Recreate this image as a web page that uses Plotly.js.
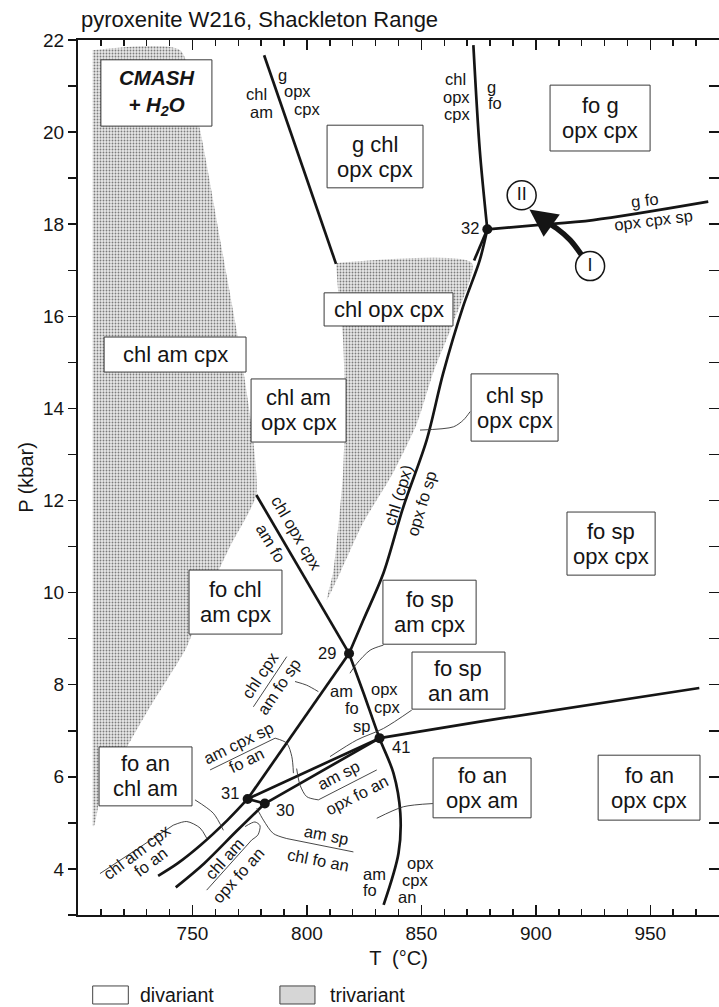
<!DOCTYPE html>
<html>
<head>
<meta charset="utf-8">
<script src="https://cdn.plot.ly/plotly-3.0.1.min.js"></script>
<style>html,body{margin:0;padding:0;background:#fff;}#plot{width:719px;height:1007px;}</style>
</head>
<body>
<div id="plot"></div>
<script>
// ---------- data: phase boundaries (T in °C, P in kbar) ----------
const T_gChl = [781.3, 812.7];                 const P_gChl = [21.67, 17.14];
const T_top32 = [872.7, 875.5, 878.8];          const P_top32 = [21.89, 19.61, 17.89];
const T_right32 = [878.8, 900.2, 925.0, 975.3]; const P_right32 = [17.89, 17.98, 18.09, 18.49];
const T_short32 = [878.8, 873.0];               const P_short32 = [17.89, 17.21];
const T_32to29 = [878.8, 875.5, 868.2, 859.5, 852.3, 842.1, 833.4, 824.6, 818.4];
const P_32to29 = [17.89, 17.22, 16.21, 14.76, 13.31, 11.86, 10.42, 9.40, 8.68];
const T_amFo = [777.9, 810.1, 818.4];           const P_amFo = [12.12, 9.40, 8.68];
const T_29down = [818.4, 824.8, 831.7, 837.8, 840.8, 840.0, 833.5];
const P_29down = [8.68, 7.81, 6.84, 6.08, 5.21, 4.34, 3.22];
const T_31to29 = [774.1, 818.4];                const P_31to29 = [5.52, 8.68];
const T_31down = [774.1, 765.3, 753.6, 743.5, 735.0]; const P_31down = [5.52, 5.06, 4.52, 4.12, 3.85];
const T_30down = [781.6, 769.6, 755.1, 742.7];  const P_30down = [5.42, 4.84, 4.12, 3.60];
const T_31to30 = [774.1, 781.6];                const P_31to30 = [5.52, 5.42];
const T_31to41 = [774.1, 831.7];                const P_31to41 = [5.52, 6.84];
const T_30to41 = [781.6, 831.7];                const P_30to41 = [5.42, 6.84];
const T_41right = [831.7, 875.6, 971.4];        const P_41right = [6.84, 7.20, 7.93];

// invariant points
const T_inv = [878.8, 818.4, 831.7, 774.1, 781.6];
const P_inv = [17.89, 8.68, 6.84, 5.52, 5.42];
const inv_labels = ['32', '29', '41', '31', '30'];

// trivariant fields (shaded)
const T_triA = [706.4, 744.6, 753.3, 762.9, 770.8, 776.0, 777.8, 766.4, 755.5, 747.5, 731.5, 718.3, 709.6, 707.0, 706.4];
const P_triA = [21.78, 21.78, 20.05, 17.44, 15.27, 13.53, 12.12, 11.00, 9.84, 8.82, 7.52, 6.37, 5.50, 4.93, 4.93];
const T_triB = [812.7, 872.0, 863.8, 855.1, 848.1, 837.6, 824.5, 814.5, 808.7, 811.4, 813.1, 815.8, 816.6, 815.8, 813.6];
const P_triB = [17.16, 17.16, 15.85, 14.77, 13.68, 12.60, 11.51, 10.43, 9.84, 10.43, 11.14, 12.60, 14.03, 15.49, 16.57];

// P-T path (I -> II)
const T_path = [920.0, 914.9, 909.1, 903.3];
const P_path = [17.33, 17.66, 17.91, 18.09];
const T_pathTip = 897.2, P_pathTip = 18.32;
const T_stages = [893.8, 923.7]; const P_stages = [18.63, 17.09]; const stage_labels = ['II', 'I'];

// tick labels
const xTicks = [750, 800, 850, 900, 950];
const yTicks = [4, 6, 8, 10, 12, 14, 16, 18, 20, 22];

// ---------- drawing ----------
const FONT = 'Liberation Sans, Arial, Helvetica, sans-serif';
const INK = '#151515';
const traces = [];
function line(T, P, w, shape) {
  traces.push({x: T, y: P, type: 'scatter', mode: 'lines', hoverinfo: 'skip',
    line: {color: INK, width: w, shape: shape || 'linear', smoothing: 0.9}});
}
function area(T, P) {
  traces.push({x: T, y: P, type: 'scatter', mode: 'lines', fill: 'toself', hoverinfo: 'skip',
    line: {width: 0, color: 'rgba(0,0,0,0)', shape: 'spline', smoothing: 0.6},
    fillcolor: '#e8e8e8',
    fillpattern: {shape: '.', size: 3, solidity: 0.3, fgcolor: '#7c7c7c', bgcolor: '#e8e8e8'}});
}
area(T_triA, P_triA);
area(T_triB, P_triB);

const LW = 2.7;
line(T_gChl, P_gChl, LW);
line(T_top32, P_top32, LW, 'spline');
line(T_right32, P_right32, LW, 'spline');
line(T_short32, P_short32, LW);
line(T_32to29, P_32to29, LW, 'spline');
line(T_amFo, P_amFo, LW);
line(T_29down, P_29down, LW, 'spline');
line(T_31to29, P_31to29, LW);
line(T_31down, P_31down, LW, 'spline');
line(T_30down, P_30down, LW, 'spline');
line(T_31to30, P_31to30, LW);
line(T_31to41, P_31to41, LW);
line(T_30to41, P_30to41, LW);
line(T_41right, P_41right, LW, 'spline');

// leader & separator lines (thin)
const thin = [
  [[871.3, 868.4, 864.0, 849.4], [13.93, 13.75, 13.60, 13.53]],
  [[776.6, 791.2], [7.52, 8.61]],
  [[794.8, 799.9, 805.0], [8.07, 7.99, 7.85]],
  [[833.4, 827.6, 821.8, 818.8], [8.86, 8.75, 8.46, 8.25]],
  [[845.8, 833.4, 821.8, 810.1], [7.45, 7.05, 6.80, 6.44]],
  [[757.7, 786.1], [6.15, 6.84]],
  [[786.1, 791.2, 793.4, 794.1], [6.84, 6.73, 6.44, 6.08]],
  [[805.0, 830.5], [5.50, 6.15]],
  [[805.0, 799.9, 797.0, 795.5], [5.50, 5.57, 5.82, 6.18]],
  [[791.2, 820.3], [4.66, 4.37]],
  [[791.2, 785.3, 781.0, 778.1], [4.66, 4.77, 5.06, 5.32]],
  [[756.2, 775.9], [3.54, 4.63]],
  [[775.9, 778.6, 779.5, 777.3, 773.0], [4.63, 4.74, 4.94, 5.02, 4.92]],
  [[709.6, 741.6], [3.90, 4.95]],
  [[741.6, 747.5, 753.3, 756.2], [4.95, 5.03, 4.89, 4.67]],
  [[751.1, 759.1, 763.5], [5.50, 5.21, 4.84]],
  [[855.0, 842.1, 830.5], [5.42, 5.35, 5.10]]
];
thin.forEach(s => traces.push({x: s[0], y: s[1], type: 'scatter', mode: 'lines', hoverinfo: 'skip',
  line: {color: '#333', width: 0.9, shape: 'spline', smoothing: 0.8}}));

// path arrow shaft
traces.push({x: T_path, y: P_path, type: 'scatter', mode: 'lines', hoverinfo: 'skip',
  line: {color: INK, width: 5.5, shape: 'spline'}});

// invariant points
traces.push({x: T_inv, y: P_inv, type: 'scatter', mode: 'markers', hoverinfo: 'skip',
  marker: {color: INK, size: 10}});
// stage circles
traces.push({x: T_stages, y: P_stages, type: 'scatter', mode: 'markers+text', hoverinfo: 'skip',
  text: stage_labels, textposition: 'middle center', textfont: {family: FONT, size: 18, color: INK},
  marker: {color: 'white', size: 29, line: {color: INK, width: 1.5}}});
// dummy for right axis
traces.push({x: [], y: [], yaxis: 'y2', type: 'scatter', mode: 'lines', hoverinfo: 'skip', showlegend: false});

const annotations = [];
const shapes = [];
function txt(t, T, P, size, angle, extra) {
  annotations.push(Object.assign({x: T, y: P, xref: 'x', yref: 'y', text: t, showarrow: false,
    textangle: angle || 0, font: {family: FONT, size: size || 16.5, color: INK}}, extra || {}));
}
function box(l1, l2, T0, T1, P0, P1) {
  shapes.push({type: 'rect', xref: 'x', yref: 'y', x0: T0, x1: T1, y0: P0, y1: P1, layer: 'above',
    fillcolor: 'white', line: {color: '#3a3a3a', width: 1}});
  const Tc = (T0 + T1) / 2, Pc = (P0 + P1) / 2;
  if (l2) {
    txt(l1, Tc, Pc, 22, 0, {yshift: 12.5});
    txt(l2, Tc, Pc, 22, 0, {yshift: -12.5});
  } else txt(l1, Tc, Pc, 22);
}
box('g chl', 'opx cpx', 808.8, 850.7, 18.79, 20.15);
box('fo g', 'opx cpx', 906.2, 949.9, 19.59, 21.02);
box('chl opx cpx', null, 807.5, 863.8, 15.79, 16.51);
box('chl am cpx', null, 711.4, 773.4, 14.79, 15.55);
box('chl am', 'opx cpx', 775.6, 817.1, 13.27, 14.64);
box('chl sp', 'opx cpx', 871.7, 909.7, 13.29, 14.75);
box('fo sp', 'opx cpx', 913.6, 952.1, 10.38, 11.75);
box('fo chl', 'am cpx', 748.5, 789.1, 9.10, 10.49);
box('fo sp', 'am cpx', 833.2, 873.9, 8.88, 10.27);
box('fo sp', 'an am', 845.9, 886.5, 7.47, 8.71);
box('fo an', 'chl am', 709.2, 749.8, 5.37, 6.65);
box('fo an', 'opx am', 855.1, 897.9, 5.11, 6.41);
box('fo an', 'opx cpx', 927.2, 971.7, 5.06, 6.47);
// CMASH box
shapes.push({type: 'rect', xref: 'x', yref: 'y', x0: 710.0, x1: 758.5, y0: 20.13, y1: 21.57, layer: 'above',
  fillcolor: 'white', line: {color: '#3a3a3a', width: 1}});
txt('<b><i>CMASH<br>+ H<sub>2</sub>O</i></b>', 734.3, 20.85, 20.5);

// line labels
txt('chl', 778.1, 20.83); txt('am', 780.3, 20.44);
txt('g', 789.4, 21.24); txt('opx', 796.0, 20.90); txt('cpx', 800.2, 20.50);
txt('chl', 864.7, 21.15); txt('opx', 865.4, 20.77); txt('cpx', 865.4, 20.39);
txt('g', 880.7, 20.97); txt('fo', 882.2, 20.63);
txt('g fo', 947.7, 18.53, 16.5, -7); txt('opx cpx sp', 951.3, 18.09, 16.5, -7);
txt('chl (cpx)', 839.9, 12.12, 16.5, -73); txt('opx fo sp', 850.2, 11.94, 16.5, -73);
txt('chl opx cpx', 795.5, 11.29, 16.5, 59.5); txt('am fo', 784.2, 11.07, 16.5, 59.5);
txt('chl cpx', 779.5, 8.21, 16.5, -56); txt('am fo sp', 787.5, 7.96, 16.5, -56);
txt('am', 815.2, 7.87); txt('fo', 819.6, 7.49); txt('sp', 823.9, 7.10);
txt('opx', 834.1, 7.90); txt('cpx', 834.9, 7.51);
txt('am cpx sp', 770.0, 6.73, 16.5, -26); txt('fo an', 773.7, 6.37, 16.5, -26);
txt('am sp', 813.7, 6.04, 16.5, -27); txt('opx fo an', 821.7, 5.60, 16.5, -27);
txt('am sp', 808.6, 4.74, 16.5, 11); txt('chl fo an', 805.0, 4.19, 16.5, 11);
txt('am', 829.3, 3.90); txt('fo', 827.6, 3.54);
txt('opx', 849.4, 4.12); txt('cpx', 847.2, 3.76); txt('an', 843.6, 3.40);
txt('chl am', 764.2, 4.23, 16.5, -48); txt('opx fo an', 770.0, 3.87, 16.5, -48);
txt('chl am cpx', 725.6, 4.37, 16.5, -37); txt('fo an', 731.5, 4.16, 16.5, -37);
// invariant point numbers
const invOff = [[871.3, 17.91], [808.9, 8.69], [841.0, 6.65], [766.4, 5.64], [790.4, 5.29]];
inv_labels.forEach((s, i) => txt(s, invOff[i][0], invOff[i][1], 16.5));

// arrow head
annotations.push({x: T_pathTip, y: P_pathTip, ax: T_path[T_path.length - 1] + 2.5, ay: P_path[P_path.length - 1] - 0.08,
  xref: 'x', yref: 'y', axref: 'x', ayref: 'y', text: '', showarrow: true,
  arrowhead: 2, arrowsize: 1.1, arrowwidth: 5, arrowcolor: INK});

// title & legend
annotations.push({xref: 'paper', yref: 'paper', x: 0.002, y: 1.0229, xanchor: 'left', yanchor: 'middle',
  text: 'pyroxenite W216, Shackleton Range', showarrow: false, font: {family: FONT, size: 22, color: INK}});
shapes.push({type: 'rect', xref: 'paper', yref: 'paper', x0: 0.0229, x1: 0.0785, y0: -0.1017, y1: -0.0811,
  fillcolor: 'white', line: {color: '#444', width: 1}});
shapes.push({type: 'rect', xref: 'paper', yref: 'paper', x0: 0.315, x1: 0.3697, y0: -0.1017, y1: -0.0811,
  fillcolor: '#d6d6d6', line: {color: '#444', width: 1}});
annotations.push({xref: 'paper', yref: 'paper', x: 0.094, y: -0.0914, xanchor: 'left', yanchor: 'middle',
  text: 'divariant', showarrow: false, font: {family: FONT, size: 19.5, color: INK}});
annotations.push({xref: 'paper', yref: 'paper', x: 0.3905, y: -0.0914, xanchor: 'left', yanchor: 'middle',
  text: 'trivariant', showarrow: false, font: {family: FONT, size: 19.5, color: INK}});

const layout = {
  width: 719, height: 1007,
  margin: {l: 78, r: 0, t: 40, b: 92},
  paper_bgcolor: 'white', plot_bgcolor: 'white',
  showlegend: false,
  font: {family: FONT, color: INK},
  xaxis: {range: [700, 980], showgrid: false, zeroline: false, showline: true, linecolor: INK, linewidth: 2,
    mirror: 'ticks', ticks: 'inside', ticklen: 10, tickwidth: 1.5, tickcolor: INK,
    tickmode: 'array', tickvals: xTicks, ticktext: xTicks.map(String),
    tickfont: {family: FONT, size: 19, color: INK},
    minor: {tickmode: 'linear', tick0: 700, dtick: 10, ticks: 'inside', ticklen: 6, tickwidth: 1.5, tickcolor: INK, showgrid: false},
    title: {text: 'T  (°C)', font: {family: FONT, size: 20, color: INK}, standoff: 8}},
  yaxis: {range: [3, 22], showgrid: false, zeroline: false, showline: true, linecolor: INK, linewidth: 2,
    mirror: true, ticks: 'outside', ticklen: 8, tickwidth: 1.5, tickcolor: INK,
    tickmode: 'array', tickvals: yTicks, ticktext: yTicks.map(String),
    tickfont: {family: FONT, size: 19, color: INK},
    minor: {tickmode: 'linear', tick0: 3, dtick: 1, ticks: 'outside', ticklen: 8, tickwidth: 1.5, tickcolor: INK, showgrid: false},
    title: {text: 'P (kbar)', font: {family: FONT, size: 20, color: INK}, standoff: 4}},
  yaxis2: {range: [3, 22], overlaying: 'y', side: 'right', anchor: 'x', showgrid: false, zeroline: false,
    showline: false, ticks: 'inside', ticklen: 10, tickwidth: 1.5, tickcolor: INK, showticklabels: false,
    tickmode: 'array', tickvals: yTicks,
    minor: {tickmode: 'linear', tick0: 3, dtick: 1, ticks: 'inside', ticklen: 10, tickwidth: 1.5, tickcolor: INK, showgrid: false}},
  annotations: annotations,
  shapes: shapes
};
Plotly.newPlot('plot', traces, layout, {staticPlot: true, displayModeBar: false});
</script>
</body>
</html>
